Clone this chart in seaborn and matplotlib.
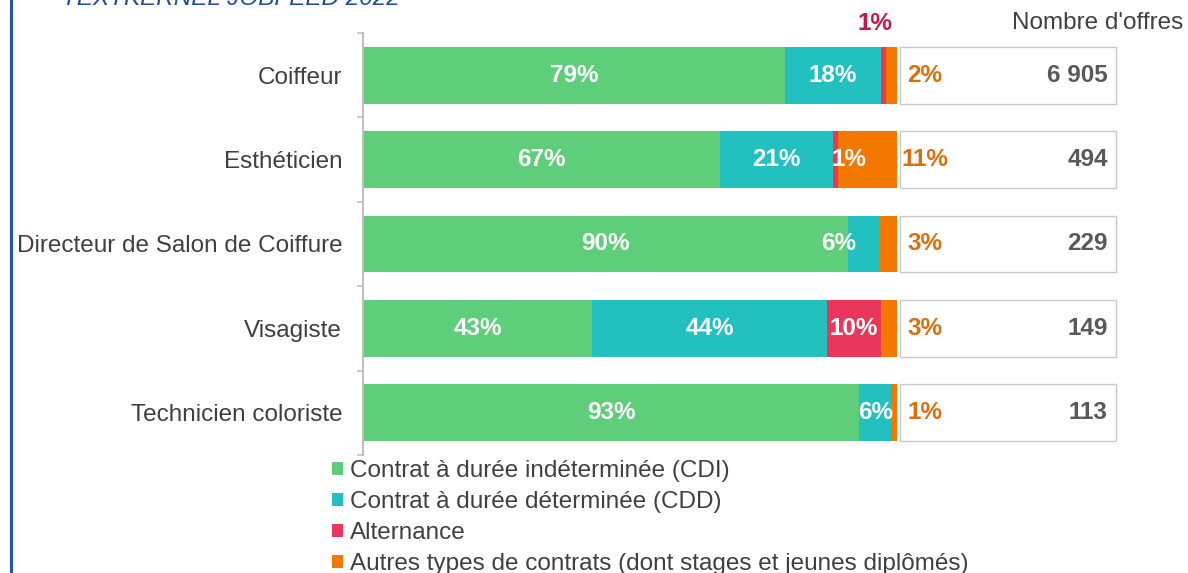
import numpy as np
import pandas as pd
import matplotlib.pyplot as plt
import seaborn as sns
from matplotlib.patches import Patch
from matplotlib.lines import Line2D

# Data
metiers = ["Coiffeur", "Esthéticien", "Directeur de Salon de Coiffure",
           "Visagiste", "Technicien coloriste"]
cdi = [79, 67, 90, 43, 93]
cdd = [18, 21, 6, 44, 6]
alternance = [1, 1, 0, 10, 0]
autres = [2, 11, 3, 3, 1]
nb_offres = ["6 905", "494", "229", "149", "113"]

series = ["Contrat à durée indéterminée (CDI)",
          "Contrat à durée déterminée (CDD)",
          "Alternance",
          "Autres types de contrats (dont stages et jeunes diplômés)"]
colors = ["#5FCE7B", "#22C0BE", "#E8375A", "#F27800"]

sns.set_theme(style="white")
plt.rcParams["font.family"] = ["Liberation Sans", "DejaVu Sans"]
fs = 17.5

cols = ["CDI", "CDD", "Alt", "Autres"]
df = pd.DataFrame({"metier": metiers, "CDI": cdi, "CDD": cdd,
                   "Alt": alternance, "Autres": autres})
vals = df[cols]
# 100% stacked: normalise each row
shares = vals.div(vals.sum(axis=1), axis=0) * 100
cum = shares.cumsum(axis=1)

fig = plt.figure(figsize=(11.88, 5.73), dpi=100)
ax = fig.add_axes([363 / 1188, 118 / 573, 755 / 1188, 422 / 573])

bar_h = 0.675
# stacked bars: draw cumulative totals from longest to shortest
for col, c in zip(reversed(cols), reversed(colors)):
    sns.barplot(x=cum[col].values, y=df["metier"], color=c, saturation=1,
                width=bar_h, linewidth=0, errorbar=None, orient="h", ax=ax)

# boxes holding the number of offers
pos = np.arange(len(metiers))
ax.barh(pos, 40.5, left=100.6, height=bar_h, color="white",
        edgecolor="#C8C8C8", linewidth=1)

ax.set_xlim(0, 141.5)
ax.set_ylim(len(metiers) - 0.5, -0.5)
ax.set_xlabel("")
ax.set_ylabel("")
ax.set_xticks([])
for s in ["top", "right", "bottom"]:
    ax.spines[s].set_visible(False)
ax.spines["left"].set_color("#BFBFBF")
ax.spines["left"].set_linewidth(1.5)
ax.tick_params(axis="y", which="major", length=0, pad=15,
               labelsize=fs, labelcolor="#404040")
ax.set_yticks(np.arange(-0.5, len(metiers)), minor=True)
ax.tick_params(axis="y", which="minor", length=4.5, width=1.2,
               color="#BFBFBF", left=True)

lab = dict(fontsize=fs, fontweight="bold", va="center", ha="center")
cdd_dx = {2: -4.8}
alt_dx = {1: 2.6}
for i in range(len(metiers)):
    x_cdi = cum["CDI"][i] - shares["CDI"][i] / 2
    ax.text(x_cdi, i, f"{cdi[i]}%", color="white", **lab)
    x_cdd = cum["CDD"][i] - shares["CDD"][i] / 2 + cdd_dx.get(i, 0)
    ax.text(x_cdd, i, f"{cdd[i]}%", color="white", **lab)
    if alternance[i] > 0:
        x_alt = cum["Alt"][i] - shares["Alt"][i] / 2 + alt_dx.get(i, 0)
        if shares["Alt"][i] < 2 and i == 0:
            ax.text(x_alt - 1.5, i - 0.61, f"{alternance[i]}%",
                    color="#C8174F", **lab)
        else:
            ax.text(x_alt, i, f"{alternance[i]}%", color="white", **lab)
    ax.text(105.3, i, f"{autres[i]}%", color="#D9700F", **lab)
    ax.text(139.6, i, nb_offres[i], color="#595959", fontsize=fs,
            fontweight="bold", va="center", ha="right")

fig.text(1183 / 1188, 1 - 23 / 573, "Nombre d'offres", ha="right",
         va="center", color="#404040", fontsize=fs)
fig.text(62 / 1188, 1 - 5 / 573, "TEXTKERNEL JOBFEED 2022", style="italic",
         color="#1F4E99", fontsize=fs, va="baseline")
fig.add_artist(Line2D([10.5 / 1188] * 2, [0, 1], color="#2456A0", lw=2.2,
                      transform=fig.transFigure))

handles = [Patch(facecolor=c, edgecolor="none") for c in colors]
leg = fig.legend(handles, series, loc="upper left",
                 bbox_to_anchor=(332 / 1188, 1 - 460 / 573), frameon=False,
                 fontsize=fs, handlelength=0.45, handleheight=0.45,
                 handletextpad=0.3, labelspacing=0.37, borderpad=0,
                 borderaxespad=0)
for t in leg.get_texts():
    t.set_color("#404040")

fig.savefig("out.png", dpi=100)
